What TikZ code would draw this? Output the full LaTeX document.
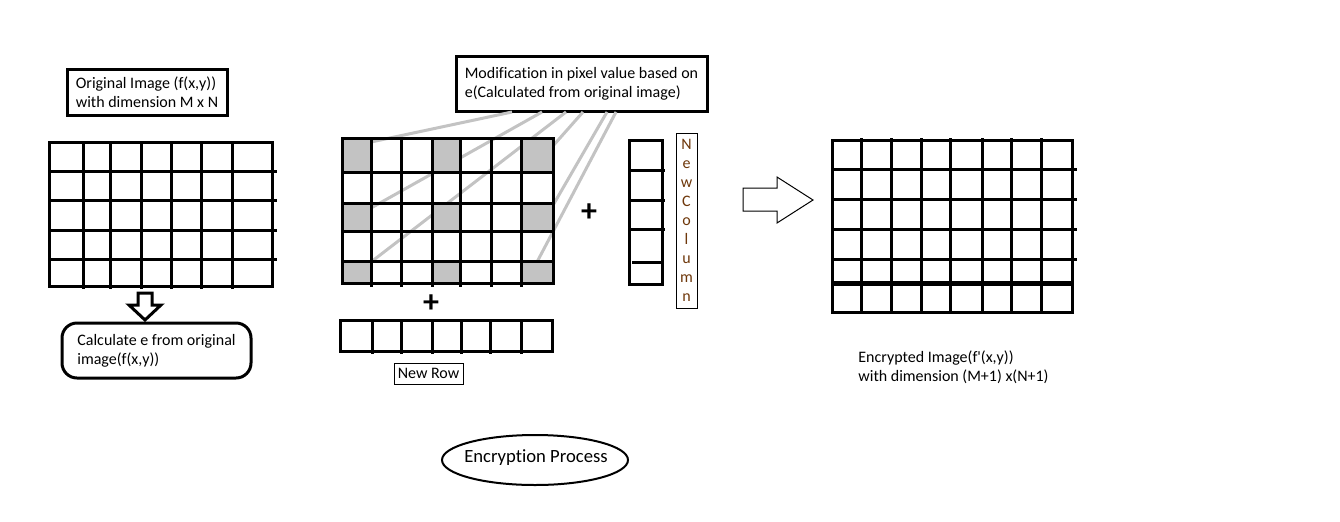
\documentclass[tikz,border=0pt]{standalone}
\usepackage{fontspec}
\setmainfont{Carlito}[Ligatures={NoCommon}]
\usetikzlibrary{shapes.geometric}
\definecolor{cellgray}{RGB}{195,195,195}
\definecolor{letterbrown}{RGB}{110,55,10}
\tikzset{
	grid line/.style={line width=1.5pt},
	pointer/.style={line width=1.5pt,draw=cellgray},
	textbox/.style={draw,line width=1.5pt,align=left,inner sep=0pt},
	thinbox/.style={draw,line width=0.5pt,inner sep=0pt},
}
\begin{document}
\begin{tikzpicture}[x=0.5pt,y=-0.5pt]
	\fontsize{8}{9.5}\selectfont
	\path[fill=white] (0,0) rectangle (1340,521);

	% original image M x N
	\node (orig) [textbox,minimum width=80pt,minimum height=23pt] at (147,92)
		{Original Image (f(x,y))\\with dimension M x N};
	\draw[grid line] (49,142) rectangle (272,286);
	\foreach \y in {171,200,230,259}
		\draw[grid line] (49,\y) -- (277,\y);
	\foreach \x in {83,110,141,171,201,232}
		\draw[grid line] (\x,142) -- (\x,289);

	\draw[grid line] (138,293) -- (152,293) -- (152,305) -- (161,305)
		-- (145,320) -- (129,305) -- (138,305) -- cycle;
	\node (calc) [textbox,rounded corners=7.5pt,minimum width=94.5pt,minimum height=27.5pt] at (156.5,350.5)
		{Calculate e from original\\image(f(x,y))};

	% modified pixels
	\node (mod) [textbox,minimum width=125.5pt,minimum height=27.5pt] at (581.5,83.5)
		{Modification in pixel value based on\\e(Calculated from original image)};
	\coordinate (m1) at (512,112);
	\coordinate (m2) at (542,112);
	\coordinate (m3) at (566,112);
	\coordinate (m4) at (583,112);
	\coordinate (m5) at (607,112);
	\coordinate (m6) at (616,112);
	\coordinate (c1) at (371,142);
	\coordinate (c2) at (371,208);
	\coordinate (c3) at (371,262);
	\coordinate (c4) at (552,147);
	\coordinate (c5) at (552,207);
	\coordinate (c6) at (537,262);
	\draw[pointer] (m1) -- (c1);
	\draw[pointer] (m2) -- (c2);
	\draw[pointer] (m3) -- (c3);
	\draw[pointer] (m4) -- (c4);
	\draw[pointer] (m5) -- (c5);
	\draw[pointer] (m6) -- (c6);

	\foreach \xa/\xb in {342/371,432/460,521/553}
		\foreach \ya/\yb in {138/172,203/231,261/283}
			\fill[cellgray] (\xa,\ya) rectangle (\xb,\yb);
	\draw[grid line] (342,138) rectangle (553,283);
	\foreach \y in {172,203,231,261}
		\draw[grid line] (342,\y) -- (553,\y);
	\foreach \x in {371,401,432,460,491,521}
		\draw[grid line] (\x,138) -- (\x,287);

	% new row
	\node (plusr) [font=\bfseries\fontsize{16}{16}\selectfont,inner sep=0pt] at (431,304) {+};
	\draw[grid line] (340,320) rectangle (552,351);
	\foreach \x in {372,401,432,461,490,521}
		\draw[grid line] (\x,320) -- (\x,354);
	\node (newrow) [thinbox,minimum width=34.5pt,minimum height=10.5pt] at (428.5,373.5) {New Row};

	% new column
	\node (plusc) [font=\bfseries\fontsize{16}{16}\selectfont,inner sep=0pt] at (589,213) {+};
	\draw[grid line] (629,140) rectangle (662,284);
	\foreach \y in {170,200,229}
		\draw[grid line] (629,\y) -- (665,\y);
	\draw[grid line] (632,262) -- (662,262);
	\node (newcol) [thinbox,minimum width=10.5pt,minimum height=87.5pt,align=center,text=letterbrown] at (686.5,220.5)
		{N\\e\\w\\C\\o\\l\\u\\m\\n};

	\draw[line width=0.5pt] (743,188) -- (777,188) -- (777,177) -- (813,200)
		-- (777,223) -- (777,211) -- (743,211) -- cycle;

	% encrypted image (M+1) x (N+1)
	\draw[grid line] (832,140) rectangle (1072,312);
	\foreach \y in {169,199,229,259}
		\draw[grid line] (832,\y) -- (1077,\y);
	\draw[line width=2.5pt] (832,283) -- (1072,283);
	\foreach \x in {861,891,921,950,982,1011,1041}
		\draw[grid line] (\x,138) -- (\x,313);
	\node (enc) [anchor=west,align=left,inner sep=0pt] at (858,367)
		{Encrypted Image(f\textquotesingle(x,y))\\with dimension (M+1) x(N+1)};

	\node (proc) [inner sep=0pt,font=\fontsize{9.33}{11}\selectfont] at (536,458) {Encryption Process};
	\draw[line width=1pt] (535,460) ellipse [x radius=46.5pt,y radius=12.5pt];
\end{tikzpicture}
\end{document}
